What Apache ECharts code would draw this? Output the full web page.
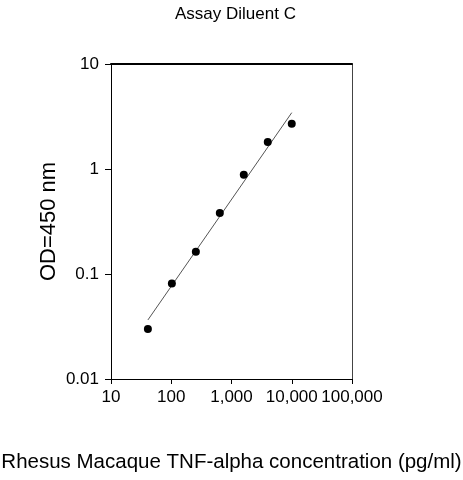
<!DOCTYPE html>
<html>
<head>
<meta charset="utf-8">
<script src="https://cdn.jsdelivr.net/npm/echarts@6/dist/echarts.min.js"></script>
<style>html,body{margin:0;padding:0;background:#fff}#c{width:463px;height:480px}</style>
</head>
<body>
<div id="c"></div>
<script>
// Data
var concentration = [40.96, 102.4, 256, 640, 1600, 4000, 10000];
var od450 = [0.030, 0.081, 0.163, 0.38, 0.88, 1.81, 2.70];
// Fitted curve endpoints
var fitX = [40.96, 10000];
var fitY = [0.0365, 3.44];
var xTicks = [10, 100, 1000, 10000, 100000];
var yTicks = [0.01, 0.1, 1, 10];
var titleText = 'Assay Diluent C';
var xName = 'Rhesus Macaque TNF-alpha concentration (pg/ml)';
var yName = 'OD=450 nm';

var font = 'Arial, "Liberation Sans", sans-serif';
function fmt(v) { return Number(v).toLocaleString('en-US', {maximumFractionDigits: 2}); }

var chart = echarts.init(document.getElementById('c'), null, {renderer: 'canvas'});
chart.setOption({
  animation: false,
  backgroundColor: '#fff',
  title: {
    text: titleText, left: 175, top: 6, padding: 0,
    textStyle: {fontFamily: font, fontSize: 17, fontWeight: 'normal', color: '#000'}
  },
  grid: {left: 111, right: 111, top: 64, bottom: 101, containLabel: false, outerBoundsMode: 'none'},
  xAxis: [{
    type: 'log', logBase: 10, min: xTicks[0], max: xTicks[xTicks.length - 1],
    name: xName, nameLocation: 'middle', nameGap: 73,
    nameTextStyle: {fontFamily: font, fontSize: 20.5, color: '#000'},
    axisLine: {show: true, lineStyle: {color: '#000', width: 1}},
    axisTick: {show: true, length: 5, lineStyle: {color: '#000'}},
    minorTick: {show: false},
    splitLine: {show: false},
    axisLabel: {fontFamily: font, fontSize: 17, color: '#000', margin: 10, hideOverlap: false,
      showMinLabel: true, showMaxLabel: true,
      formatter: function (v) { return fmt(v); }}
  }, {
    type: 'log', logBase: 10, min: xTicks[0], max: xTicks[xTicks.length - 1], position: 'top',
    axisLine: {show: true, lineStyle: {color: '#000', width: 2}},
    axisTick: {show: false}, axisLabel: {show: false}, splitLine: {show: false}
  }],
  yAxis: [{
    type: 'log', logBase: 10, min: yTicks[0], max: yTicks[yTicks.length - 1],
    name: yName, nameLocation: 'middle', nameGap: 51, nameRotate: 90, nameMoveOverlap: false,
    nameTextStyle: {fontFamily: font, fontSize: 22, color: '#000'},
    axisLine: {show: true, lineStyle: {color: '#000', width: 1}},
    axisTick: {show: true, length: 6, lineStyle: {color: '#000'}},
    splitLine: {show: false},
    axisLabel: {fontFamily: font, fontSize: 17, color: '#000', margin: 12,
      formatter: function (v) { return fmt(v); }}
  }, {
    type: 'log', logBase: 10, min: yTicks[0], max: yTicks[yTicks.length - 1], position: 'right',
    axisLine: {show: true, lineStyle: {color: '#444', width: 1}},
    axisTick: {show: false}, axisLabel: {show: false}, splitLine: {show: false}
  }],
  series: [{
    type: 'line',
    data: fitX.map(function (x, i) { return [x, fitY[i]]; }),
    showSymbol: false, symbol: 'none',
    lineStyle: {color: '#555', width: 1},
    z: 2
  }, {
    type: 'scatter',
    data: concentration.map(function (x, i) { return [x, od450[i]]; }),
    symbol: 'circle', symbolSize: 8,
    itemStyle: {color: '#000', opacity: 1},
    z: 3
  }]
});
</script>
</body>
</html>
